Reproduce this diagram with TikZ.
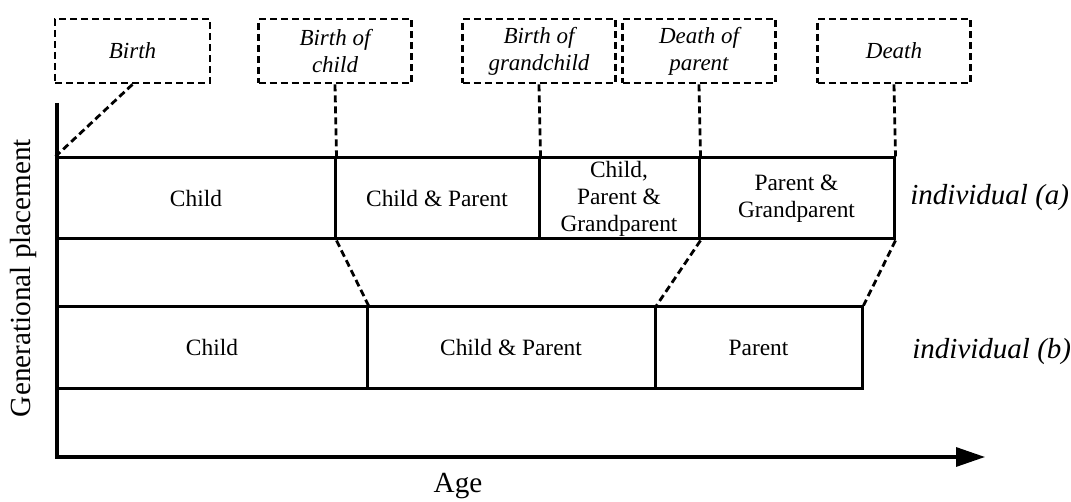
\documentclass[tikz,border=0pt]{standalone}
\usepackage{fontspec}
\setmainfont{Liberation Serif}
\usetikzlibrary{arrows.meta}
\tikzset{
  evbox/.style={draw, line width=1.4pt, dash pattern=on 3.5pt off 2pt, minimum height=32pt, minimum width=76.5pt, inner sep=1pt, align=center, font=\fontsize{11.5pt}{13.5pt}\selectfont\itshape},
  cell/.style={draw, line width=1.5pt, minimum height=40.5pt, inner sep=0pt, align=center, font=\fontsize{11.7pt}{13.5pt}\selectfont},
  dconn/.style={line width=1.4pt, dash pattern=on 3.5pt off 2pt},
  axis/.style={line width=1.6pt},
  indiv/.style={font=\fontsize{14.5pt}{16pt}\selectfont\itshape, anchor=west, inner sep=0pt},
  axlabel/.style={font=\fontsize{14.6pt}{16pt}\selectfont, inner sep=0pt}
}
\begin{document}
\begin{tikzpicture}[x=0.5pt,y=-0.5pt]
\useasboundingbox (0,0) rectangle (1071,502);
% event boxes
\node[evbox, minimum width=77.5pt] (birth) at (132.5,51) {Birth};
\node[evbox] (bchild) at (335,51) {Birth of\\child};
\node[evbox] (bgrand) at (539,51) {Birth of\\grandchild};
\node[evbox] (dpar) at (699,51) {Death of\\parent};
\node[evbox] (death) at (894,51) {Death};
% row a
\node[cell, minimum width=139pt] (a1) at (196,198.5) {Child};
\node[cell, minimum width=102pt] (a2) at (437,198.5) {Child \& Parent};
\node[cell, minimum width=80pt] (a3) at (619,198.5) {Child,\\Parent \&\\Grandparent};
\node[cell, minimum width=97.5pt] (a4) at (796.5,198.5) {Parent \&\\Grandparent};
% row b
\node[cell, minimum width=155pt] (b1) at (212,347.5) {Child};
\node[cell, minimum width=144pt] (b2) at (511,347.5) {Child \& Parent};
\node[cell, minimum width=103.5pt] (b3) at (758.5,347.5) {Parent};
% labels
\node[indiv] (ia) at (910,198) {individual (a)};
\node[indiv] (ib) at (912,352) {individual (b)};
% axes
\coordinate (ytop) at (57,103);
\coordinate (orig) at (57,457);
\coordinate (xstart) at (55,457);
\coordinate (xend) at (985,457);
\draw[axis] (ytop) -- (orig);
\draw[axis, -{Triangle[length=14.5pt,width=9.5pt]}] (xstart) -- (xend);
\node[axlabel] (age) at (458,486) {Age};
\node[axlabel, rotate=90] (gen) at (23,278) {Generational placement};
% dashed connectors
\draw[dconn] (birth.south) -- (a1.north west);
\draw[dconn] (bchild.south) -- (a1.north east);
\draw[dconn] (bgrand.south) -- (a2.north east);
\draw[dconn] (dpar.south) -- (a3.north east);
\draw[dconn] (death.south) -- (a4.north east);
\draw[dconn] (a1.south east) -- (b1.north east);
\draw[dconn] (a3.south east) -- (b2.north east);
\draw[dconn] (a4.south east) -- (b3.north east);
\end{tikzpicture}
\end{document}
